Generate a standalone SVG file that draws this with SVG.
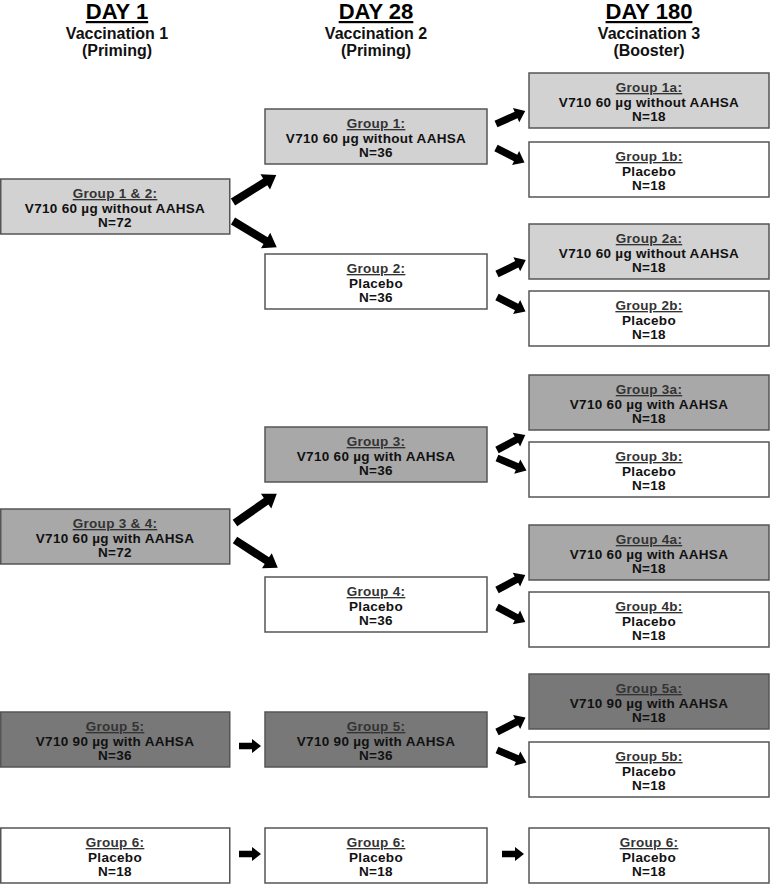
<svg xmlns="http://www.w3.org/2000/svg" xmlns:xlink="http://www.w3.org/1999/xlink" width="770" height="884" viewBox="0 0 770 884">
<style>
  .box{stroke:#555;stroke-width:1.5}
  .light{fill:#d2d2d2}
  .mid{fill:#a8a8a8}
  .dark{fill:#787878}
  .white{fill:#ffffff}
  text{font-family:"Liberation Sans",Arial,sans-serif;font-weight:bold;text-anchor:middle}
  .t{font-size:13.5px;letter-spacing:0.3px;fill:#111}
  .g{text-decoration:underline;fill:#333}
  .day{font-size:22px;text-decoration:underline;fill:#000}
  .sub{font-size:16px;fill:#111}
  .arr{fill:#000}
</style>
<defs>
  <path id="aBig" d="M0,-4 L38,-4 L38,-9 L51,0 L38,9 L38,4 L0,4 Z"/>
  <path id="aMid" d="M0,-3.6 L22,-3.6 L22,-7.8 L32,0 L22,7.8 L22,3.6 L0,3.6 Z"/>
  <path id="aSml" d="M0,-3.2 L13,-3.2 L13,-7 L22,0 L13,7 L13,3.2 L0,3.2 Z"/>
</defs>
<g id="headers">
  <text class="day" x="117" y="19">DAY 1</text>
  <text class="sub" x="117" y="39">Vaccination 1</text>
  <text class="sub" x="117" y="56">(Priming)</text>
  <text class="day" x="376" y="19">DAY 28</text>
  <text class="sub" x="376" y="39">Vaccination 2</text>
  <text class="sub" x="376" y="56">(Priming)</text>
  <text class="day" x="649" y="19">DAY 180</text>
  <text class="sub" x="649" y="39">Vaccination 3</text>
  <text class="sub" x="649" y="56">(Booster)</text>
</g>
<g id="g12"><rect class="box light" x="0.75" y="179" width="229" height="55"/>
  <text class="t" x="115"><tspan class="g" x="115" y="198">Group 1 &amp; 2:</tspan><tspan x="115" y="212.5">V710 60 µg without AAHSA</tspan><tspan x="115" y="227">N=72</tspan></text></g>
<g id="g34"><rect class="box mid" x="0.75" y="509" width="229" height="55"/>
  <text class="t" x="115"><tspan class="g" x="115" y="528">Group 3 &amp; 4:</tspan><tspan x="115" y="542.5">V710 60 µg with AAHSA</tspan><tspan x="115" y="557">N=72</tspan></text></g>
<g id="g5d1"><rect class="box dark" x="0.75" y="712" width="229" height="55"/>
  <text class="t" x="115"><tspan class="g" x="115" y="731">Group 5:</tspan><tspan x="115" y="745.5">V710 90 µg with AAHSA</tspan><tspan x="115" y="760">N=36</tspan></text></g>
<g id="g6d1"><rect class="box white" x="0.75" y="828" width="229" height="55"/>
  <text class="t" x="115"><tspan class="g" x="115" y="847">Group 6:</tspan><tspan x="115" y="861.5">Placebo</tspan><tspan x="115" y="876">N=18</tspan></text></g>

<g id="g1"><rect class="box light" x="265" y="109" width="222" height="55"/>
  <text class="t" x="376"><tspan class="g" x="376" y="128">Group 1:</tspan><tspan x="376" y="142.5">V710 60 µg without AAHSA</tspan><tspan x="376" y="157">N=36</tspan></text></g>
<g id="g2"><rect class="box white" x="265" y="254" width="222" height="55"/>
  <text class="t" x="376"><tspan class="g" x="376" y="273">Group 2:</tspan><tspan x="376" y="287.5">Placebo</tspan><tspan x="376" y="302">N=36</tspan></text></g>
<g id="g3"><rect class="box mid" x="265" y="427" width="222" height="55"/>
  <text class="t" x="376"><tspan class="g" x="376" y="446">Group 3:</tspan><tspan x="376" y="460.5">V710 60 µg with AAHSA</tspan><tspan x="376" y="475">N=36</tspan></text></g>
<g id="g4"><rect class="box white" x="265" y="577" width="222" height="55"/>
  <text class="t" x="376"><tspan class="g" x="376" y="596">Group 4:</tspan><tspan x="376" y="610.5">Placebo</tspan><tspan x="376" y="625">N=36</tspan></text></g>
<g id="g5d28"><rect class="box dark" x="265" y="712" width="222" height="55"/>
  <text class="t" x="376"><tspan class="g" x="376" y="731">Group 5:</tspan><tspan x="376" y="745.5">V710 90 µg with AAHSA</tspan><tspan x="376" y="760">N=36</tspan></text></g>
<g id="g6d28"><rect class="box white" x="265" y="828" width="222" height="55"/>
  <text class="t" x="376"><tspan class="g" x="376" y="847">Group 6:</tspan><tspan x="376" y="861.5">Placebo</tspan><tspan x="376" y="876">N=18</tspan></text></g>

<g id="g1a"><rect class="box light" x="529" y="73" width="240" height="55"/>
  <text class="t" x="649"><tspan class="g" x="649" y="92">Group 1a:</tspan><tspan x="649" y="106.5">V710 60 µg without AAHSA</tspan><tspan x="649" y="121">N=18</tspan></text></g>
<g id="g1b"><rect class="box white" x="529" y="142" width="240" height="55"/>
  <text class="t" x="649"><tspan class="g" x="649" y="161">Group 1b:</tspan><tspan x="649" y="175.5">Placebo</tspan><tspan x="649" y="190">N=18</tspan></text></g>
<g id="g2a"><rect class="box light" x="529" y="224" width="240" height="55"/>
  <text class="t" x="649"><tspan class="g" x="649" y="243">Group 2a:</tspan><tspan x="649" y="257.5">V710 60 µg without AAHSA</tspan><tspan x="649" y="272">N=18</tspan></text></g>
<g id="g2b"><rect class="box white" x="529" y="291" width="240" height="55"/>
  <text class="t" x="649"><tspan class="g" x="649" y="310">Group 2b:</tspan><tspan x="649" y="324.5">Placebo</tspan><tspan x="649" y="339">N=18</tspan></text></g>
<g id="g3a"><rect class="box mid" x="529" y="375" width="240" height="55"/>
  <text class="t" x="649"><tspan class="g" x="649" y="394">Group 3a:</tspan><tspan x="649" y="408.5">V710 60 µg with AAHSA</tspan><tspan x="649" y="423">N=18</tspan></text></g>
<g id="g3b"><rect class="box white" x="529" y="442" width="240" height="55"/>
  <text class="t" x="649"><tspan class="g" x="649" y="461">Group 3b:</tspan><tspan x="649" y="475.5">Placebo</tspan><tspan x="649" y="490">N=18</tspan></text></g>
<g id="g4a"><rect class="box mid" x="529" y="525" width="240" height="55"/>
  <text class="t" x="649"><tspan class="g" x="649" y="544">Group 4a:</tspan><tspan x="649" y="558.5">V710 60 µg with AAHSA</tspan><tspan x="649" y="573">N=18</tspan></text></g>
<g id="g4b"><rect class="box white" x="529" y="592" width="240" height="55"/>
  <text class="t" x="649"><tspan class="g" x="649" y="611">Group 4b:</tspan><tspan x="649" y="625.5">Placebo</tspan><tspan x="649" y="640">N=18</tspan></text></g>
<g id="g5a"><rect class="box dark" x="529" y="674" width="240" height="55"/>
  <text class="t" x="649"><tspan class="g" x="649" y="693">Group 5a:</tspan><tspan x="649" y="707.5">V710 90 µg with AAHSA</tspan><tspan x="649" y="722">N=18</tspan></text></g>
<g id="g5b"><rect class="box white" x="529" y="742" width="240" height="55"/>
  <text class="t" x="649"><tspan class="g" x="649" y="761">Group 5b:</tspan><tspan x="649" y="775.5">Placebo</tspan><tspan x="649" y="790">N=18</tspan></text></g>
<g id="g6d180"><rect class="box white" x="529" y="828" width="240" height="55"/>
  <text class="t" x="649"><tspan class="g" x="649" y="847">Group 6:</tspan><tspan x="649" y="861.5">Placebo</tspan><tspan x="649" y="876">N=18</tspan></text></g>

<g id="connectors" class="arr">
  <use xlink:href="#aBig" transform="translate(233,202) rotate(-32)"/>
  <use xlink:href="#aBig" transform="translate(233,221) rotate(31)"/>
  <use xlink:href="#aBig" transform="translate(235,523) rotate(-35)"/>
  <use xlink:href="#aBig" transform="translate(235,540) rotate(33)"/>
  <use xlink:href="#aMid" transform="translate(496,124) rotate(-24)"/>
  <use xlink:href="#aMid" transform="translate(496,148) rotate(27)"/>
  <use xlink:href="#aMid" transform="translate(497,274) rotate(-26)"/>
  <use xlink:href="#aMid" transform="translate(497,297) rotate(27)"/>
  <use xlink:href="#aMid" transform="translate(497,450) rotate(-28)"/>
  <use xlink:href="#aMid" transform="translate(497,458) rotate(23)"/>
  <use xlink:href="#aMid" transform="translate(497,590) rotate(-28)"/>
  <use xlink:href="#aMid" transform="translate(497,607) rotate(28)"/>
  <use xlink:href="#aMid" transform="translate(497,732) rotate(-27)"/>
  <use xlink:href="#aMid" transform="translate(497,750) rotate(23)"/>
  <use xlink:href="#aSml" transform="translate(239,746)"/>
  <use xlink:href="#aSml" transform="translate(239,854)"/>
  <use xlink:href="#aSml" transform="translate(502,854)"/>
</g>
</svg>
